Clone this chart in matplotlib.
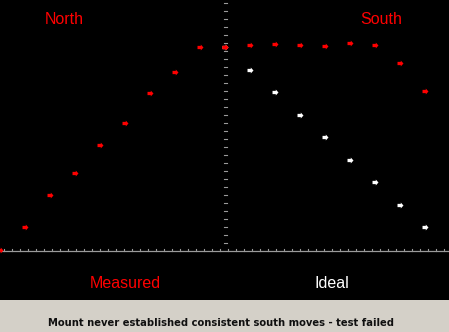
import matplotlib.pyplot as plt
import numpy as np
from matplotlib.path import Path
from matplotlib.patches import Rectangle

# step index along the x axis (north moves then south moves)
north_x = [0, 1, 2, 3, 4, 5, 6, 7, 8, 9]
north_y = [0, 23, 55, 77, 105, 127, 157, 178, 203, 203]

south_x = [9, 10, 11, 12, 13, 14, 15, 16, 17]
south_measured = [203, 205, 206, 205, 204, 207, 205, 187, 159]
south_ideal = [203, 180, 158, 135, 113, 90, 68, 45, 23]

W, H = 449, 332
fig = plt.figure(figsize=(W / 100, H / 100), dpi=100)
fig.patch.set_facecolor('black')

# bottom status panel
fig.patches.append(Rectangle((0, 0), 1, 32 / H, transform=fig.transFigure,
                             facecolor='#d4d0c8', edgecolor='none', zorder=0))

ax = fig.add_axes([0, 0, 1, 1])
ax.set_facecolor('none')
ax.set_xlim(0, W / 25)
ax.set_ylim(-82, 250)
ax.axis('off')

# arrow marker
arrow = Path([(-1, -0.55), (0.1, -0.55), (0.1, -1), (1, 0),
              (0.1, 1), (0.1, 0.55), (-1, 0.55), (-1, -0.55)],
             [Path.MOVETO] + [Path.LINETO] * 6 + [Path.CLOSEPOLY])

axis_col = '#9a9a9a'
# horizontal axis with small ticks
ax.axhline(-1, color=axis_col, lw=0.9)
for px in np.arange(4, W, 8):
    ax.plot([px / 25, px / 25], [-1, 1.5], color=axis_col, lw=0.8)

# vertical axis drawn as dashes
for py in np.arange(3.3, 246, 8):
    ax.plot([224 / 25, 227 / 25], [250 - py, 250 - py], color=axis_col, lw=0.8)

mk = dict(linestyle='none', marker=arrow, markersize=4.3, markeredgewidth=0)
ax.plot(south_x, south_ideal, color='white', zorder=3, **mk)
ax.plot(north_x, north_y, color='red', zorder=4, **mk)
ax.plot(south_x, south_measured, color='red', zorder=4, **mk)

fig.text(64 / W, 1 - 19 / H, 'North', color='red', fontsize=11.5,
         family='Liberation Sans', ha='center', va='center')
fig.text(381 / W, 1 - 19 / H, 'South', color='red', fontsize=11.5,
         family='Liberation Sans', ha='center', va='center')
fig.text(125 / W, 1 - 284 / H, 'Measured', color='red', fontsize=11.5,
         family='Liberation Sans', ha='center', va='center')
fig.text(332 / W, 1 - 284 / H, 'Ideal', color='white', fontsize=11.5,
         family='Liberation Sans', ha='center', va='center')
fig.text(221 / W, 1 - 323 / H,
         'Mount never established consistent south moves - test failed',
         color='#101010', fontsize=7.2, fontweight='bold',
         family='DejaVu Sans', ha='center', va='center')

fig.savefig('out.png', dpi=100, facecolor=fig.get_facecolor())
